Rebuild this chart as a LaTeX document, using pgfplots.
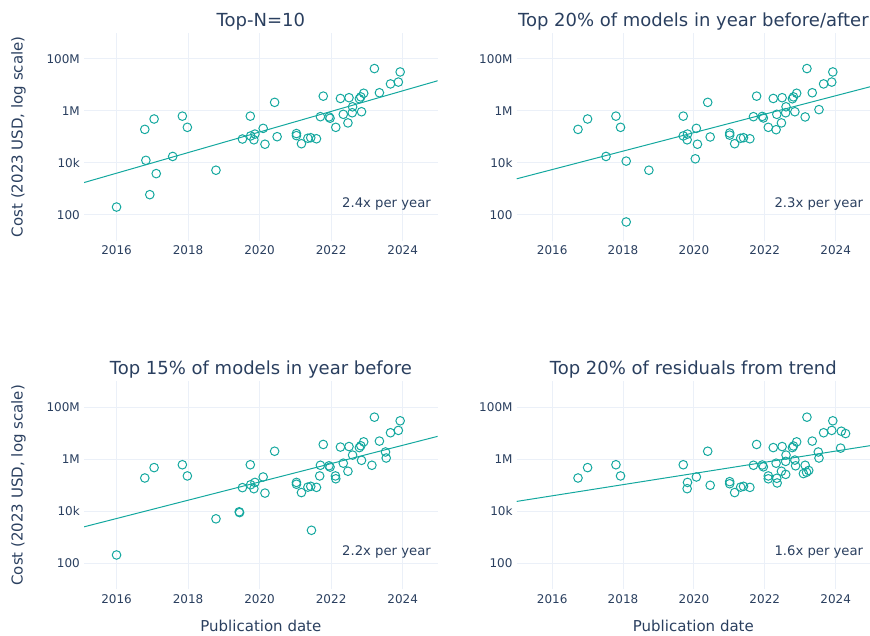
\documentclass[border=0pt]{standalone}
\usepackage{pgfplots}
\pgfplotsset{compat=1.18}
\usepackage{fontspec}
\setmainfont{DejaVu Sans}
\definecolor{txt}{HTML}{2A3F5F}
\definecolor{grd}{HTML}{EBF0F8}
\definecolor{teal1}{HTML}{14A89F}

\pgfplotsset{
  every axis/.append style={
    scale only axis, height=208pt,
    ytick={100,1e4,1e6,1e8}, yticklabels={100,10k,1M,100M},
    xtick={2016,2018,2020,2022,2024}, xticklabels={2016,2018,2020,2022,2024},
    grid=major, grid style={grd, line width=1pt},
    axis line style={draw=none},
    major tick length=0pt,
    tick label style={font=\fontsize{12}{14}\selectfont, text=txt},
    yticklabel style={inner sep=0pt, xshift=-4pt},
    xticklabel style={inner sep=0pt, yshift=-5pt},
  },
  every axis title/.style={at={(rel axis cs:0.5,1)}, anchor=base, yshift=6.5pt, inner sep=0pt, font=\fontsize{18}{21}\selectfont, text=txt},
  every axis y label/.style={at={(rel axis cs:0,0.5)}, xshift=-65.5pt, rotate=90, anchor=center, font=\fontsize{15}{17}\selectfont, text=txt, inner sep=0pt},
  every axis x label/.style={at={(rel axis cs:0.5,0)}, yshift=-42.7pt, anchor=base, font=\fontsize{15}{17}\selectfont, text=txt, inner sep=0pt},
}
\newcommand{\ann}[2]{\node[anchor=base east, inner sep=0pt, font=\fontsize{13.2}{15}\selectfont, text=txt] at ([xshift=-6.7pt, yshift=#2]rel axis cs:1,0) {#1};}

\begin{document}
\begin{tikzpicture}
\path[use as bounding box] (0pt,0pt) rectangle (870pt,636pt);

% Panel 1
\begin{axis}[ymode=log, ymin=10, ymax=1e9, width=353.7pt, xmin=2015.09, xmax=2024.98, at={(84pt,395.3pt)}, anchor=south west, title={Top-N=10}, ylabel={Cost (2023 USD, log scale)}]
\addplot[teal1, line width=1pt, no marks] coordinates {(2015,1585) (2025,1.445e7)};
\addplot[only marks, mark=o, mark size=4.3pt, mark options={line width=1pt, draw=teal1}] coordinates {
(2016.00,197) (2016.79,1.91e5) (2016.82,1.23e4) (2016.93,589) (2017.05,4.79e5)
(2017.11,3.80e3) (2017.57,1.74e4) (2017.84,6.17e5) (2017.98,2.29e5) (2018.78,5.13e3)
(2019.52,8.13e4) (2019.74,6.17e5) (2019.75,1.07e5) (2019.84,7.59e4) (2019.87,1.26e5)
(2020.10,2.09e5) (2020.15,5.13e4) (2020.42,2.09e6) (2020.49,1.00e5) (2021.03,1.32e5)
(2021.03,1.10e5) (2021.17,5.37e4) (2021.35,8.71e4) (2021.43,9.12e4) (2021.59,8.32e4)
(2021.70,5.89e5) (2021.78,3.63e6) (2021.94,5.75e5) (2021.97,5.13e5) (2022.13,2.29e5)
(2022.26,2.95e6) (2022.34,7.24e5) (2022.47,3.39e5) (2022.50,3.16e6) (2022.60,1.41e6)
(2022.59,8.32e5) (2022.79,2.88e6) (2022.83,3.39e6) (2022.85,9.12e5) (2022.91,4.68e6)
(2023.21,4.17e7) (2023.35,4.90e6) (2023.66,1.07e7) (2023.88,1.26e7) (2023.93,3.09e7)
};
\ann{2.4x per year}{33.4pt}
\end{axis}

% Panel 2
\begin{axis}[ymode=log, ymin=10, ymax=1e9, width=353.3pt, xmin=2015.0, xmax=2024.97, at={(516.7pt,395.3pt)}, anchor=south west, title={Top 20\% of models in year before/after}]
\addplot[teal1, line width=1pt, no marks] coordinates {(2015,2399) (2025,8.51e6)};
\addplot[only marks, mark=o, mark size=4.3pt, mark options={line width=1pt, draw=teal1}] coordinates {
(2016.73,1.91e5) (2017.00,4.79e5) (2017.52,1.74e4) (2017.80,6.17e5) (2017.93,2.29e5)
(2018.09,1.15e4) (2018.09,52.5) (2018.73,5.13e3) (2019.70,6.17e5) (2019.70,1.07e5)
(2019.81,7.59e4) (2019.82,1.26e5) (2020.04,1.41e4) (2020.07,2.09e5) (2020.10,5.13e4)
(2020.39,2.09e6) (2020.46,9.77e4) (2021.01,1.38e5) (2021.01,1.15e5) (2021.15,5.37e4)
(2021.32,8.71e4) (2021.40,9.12e4) (2021.58,8.32e4) (2021.68,5.89e5) (2021.77,3.63e6)
(2021.93,6.03e5) (2021.96,5.25e5) (2022.10,2.29e5) (2022.24,2.95e6) (2022.32,1.86e5)
(2022.34,7.24e5) (2022.47,3.39e5) (2022.49,3.16e6) (2022.59,8.32e5) (2022.60,1.41e6)
(2022.78,2.88e6) (2022.81,3.39e6) (2022.85,9.12e5) (2022.90,4.68e6) (2023.14,5.75e5)
(2023.19,4.17e7) (2023.34,4.90e6) (2023.53,1.10e6) (2023.66,1.07e7) (2023.89,1.26e7)
(2023.92,3.09e7)
};
\ann{2.3x per year}{33.4pt}
\end{axis}

% Panel 3
\begin{axis}[ymode=log, ymin=10, ymax=1e9, width=353.7pt, xmin=2015.09, xmax=2024.98, at={(84pt,46.7pt)}, anchor=south west, title={Top 15\% of models in year before}, ylabel={Cost (2023 USD, log scale)}, xlabel={Publication date}]
\addplot[teal1, line width=1pt, no marks] coordinates {(2015,2344) (2025,7.76e6)};
\addplot[only marks, mark=o, mark size=4.3pt, mark options={line width=1pt, draw=teal1}] coordinates {
(2016.00,209) (2016.79,1.91e5) (2017.05,4.79e5) (2017.84,6.17e5) (2017.98,2.29e5)
(2018.78,5.13e3) (2019.43,9.55e3) (2019.44,8.91e3) (2019.52,8.13e4) (2019.74,6.17e5)
(2019.75,1.05e5) (2019.84,7.41e4) (2019.87,1.29e5) (2020.10,2.09e5) (2020.15,5.01e4)
(2020.42,2.04e6) (2021.03,1.29e5) (2021.03,1.10e5) (2021.17,5.25e4) (2021.35,8.51e4)
(2021.43,9.12e4) (2021.45,1.86e3) (2021.59,8.32e4) (2021.68,2.29e5) (2021.70,5.89e5)
(2021.78,3.72e6) (2021.94,5.62e5) (2021.97,5.01e5) (2022.12,2.29e5) (2022.13,1.78e5)
(2022.26,2.95e6) (2022.34,7.08e5) (2022.47,3.47e5) (2022.50,3.09e6) (2022.60,1.45e6)
(2022.79,2.82e6) (2022.83,3.31e6) (2022.85,9.12e5) (2022.91,4.68e6) (2023.14,5.89e5)
(2023.21,4.17e7) (2023.35,5.01e6) (2023.52,1.91e6) (2023.54,1.12e6) (2023.66,1.05e7)
(2023.88,1.29e7) (2023.93,3.02e7)
};
\ann{2.2x per year}{33.8pt}
\end{axis}

% Panel 4
\begin{axis}[ymode=log, ymin=10, ymax=1e9, width=353.3pt, xmin=2015.0, xmax=2024.97, at={(516.7pt,46.7pt)}, anchor=south west, title={Top 20\% of residuals from trend}, xlabel={Publication date}]
\addplot[teal1, line width=1pt, no marks] coordinates {(2015,23988) (2025,3.39e6)};
\addplot[only marks, mark=o, mark size=4.3pt, mark options={line width=1pt, draw=teal1}] coordinates {
(2016.73,1.91e5) (2017.00,4.79e5) (2017.80,6.17e5) (2017.93,2.29e5) (2019.70,6.17e5)
(2019.81,7.41e4) (2019.82,1.29e5) (2020.07,2.09e5) (2020.39,2.04e6) (2020.46,1.00e5)
(2021.01,1.38e5) (2021.01,1.15e5) (2021.15,5.25e4) (2021.32,8.51e4) (2021.40,9.12e4)
(2021.58,8.32e4) (2021.68,5.89e5) (2021.77,3.72e6) (2021.93,6.03e5) (2021.96,5.13e5)
(2022.10,2.29e5) (2022.10,1.78e5) (2022.24,2.82e6) (2022.32,7.08e5) (2022.34,1.86e5)
(2022.35,1.23e5) (2022.47,3.47e5) (2022.49,3.09e6) (2022.59,2.63e5) (2022.59,8.32e5)
(2022.60,1.45e6) (2022.78,2.82e6) (2022.81,3.24e6) (2022.85,9.33e5) (2022.87,5.62e5)
(2022.90,4.68e6) (2023.09,2.82e5) (2023.14,5.89e5) (2023.18,3.16e5) (2023.19,4.17e7)
(2023.24,3.72e5) (2023.34,5.01e6) (2023.51,1.91e6) (2023.53,1.12e6) (2023.66,1.05e7)
(2023.89,1.29e7) (2023.92,3.02e7) (2024.16,1.20e7) (2024.14,2.69e6) (2024.28,9.77e6)
};
\ann{1.6x per year}{33.8pt}
\end{axis}
\end{tikzpicture}
\end{document}
